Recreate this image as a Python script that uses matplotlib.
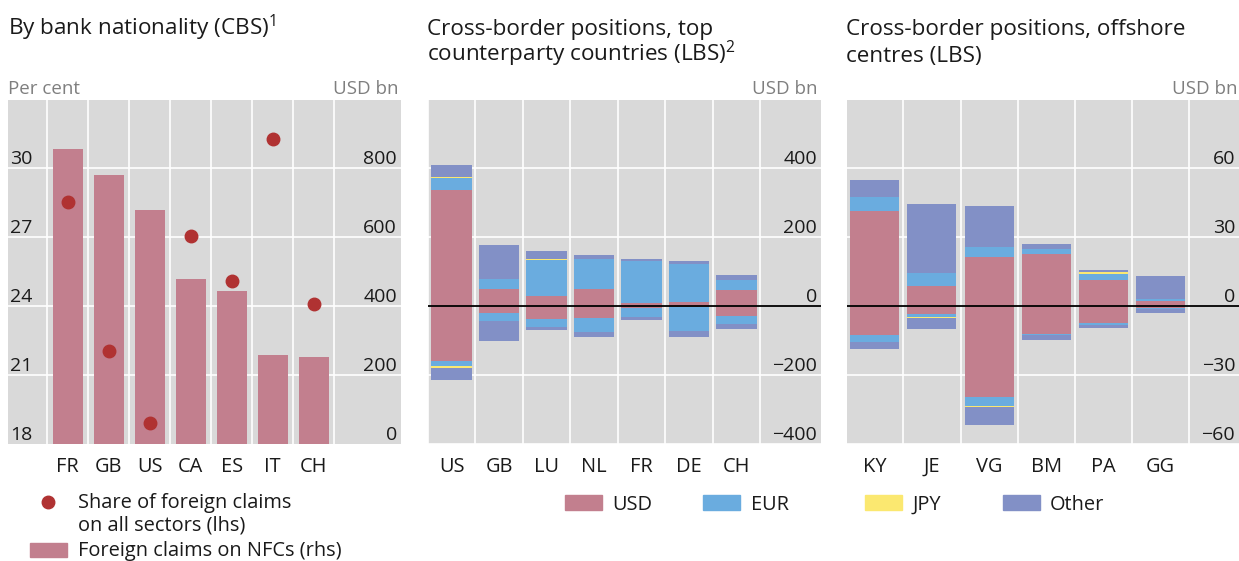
import numpy as np
import matplotlib
matplotlib.use('Agg')
import matplotlib.pyplot as plt
from matplotlib.patches import Rectangle
from matplotlib.lines import Line2D
from matplotlib.transforms import blended_transform_factory

plt.rcParams['font.family'] = ['Open Sans', 'DejaVu Sans']

# left panel: by bank nationality (CBS)
cbs_countries = ['FR', 'GB', 'US', 'CA', 'ES', 'IT', 'CH']
nfc_claims = [856, 781, 680, 480, 443, 258, 252]           # USD bn, rhs
share_all = [28.55, 22.05, 18.9, 27.05, 25.1, 31.3, 24.1]  # per cent, lhs

# middle panel: top counterparty countries (LBS)
top_countries = ['US', 'GB', 'LU', 'NL', 'FR', 'DE', 'CH']
top_usd_pos = [338, 50, 29, 50, 9, 12, 46]
top_eur_pos = [34, 29, 104, 86, 121, 110, 29]
top_jpy_pos = [4, 0, 4, 0, 0, 0, 0]
top_oth_pos = [34, 100, 22, 14, 6, 9, 17]
top_usd_neg = [-159, -19, -37, -35, -5, -2, -29]
top_eur_neg = [-16, -23, -23, -40, -27, -70, -22]
top_jpy_neg = [-4, -2, 0, 0, 0, 0, -2]
top_oth_neg = [-34, -57, -9, -14, -9, -18, -13]

# right panel: offshore centres (LBS)
off_centres = ['KY', 'JE', 'VG', 'BM', 'PA', 'GG']
off_usd_pos = [41.3, 8.6, 21.6, 22.9, 11.2, 2.2]
off_eur_pos = [6.4, 6.0, 4.3, 2.1, 3.0, 0.8]
off_jpy_pos = [0, 0, 0, 0, 0.9, 0]
off_oth_pos = [7.4, 30.0, 17.9, 2.2, 0.8, 10.3]
off_usd_neg = [-12.6, -3.6, -39.4, -12.3, -7.1, -1.0]
off_eur_neg = [-2.8, -1.2, -4.0, -0.4, -1.3, -0.4]
off_jpy_neg = [-0.4, -0.3, -0.4, 0, 0, 0]
off_oth_neg = [-3.0, -5.0, -8.1, -2.2, -0.9, -1.4]

ccy_labels = ['USD', 'EUR', 'JPY', 'Other']
ccy_colors = ['#c27f8e', '#6aacdf', '#fbe870', '#8290c6']
dot_color = '#b03232'
bg = '#d9d9d9'
grey_txt = '#7f7f7f'

W, H = 1239, 561
fig = plt.figure(figsize=(W / 100, H / 100), dpi=100)


def fx(px):
    return px / W


def fy(py):
    return 1 - py / H


def make_ax(x0, x1, y0=99.5, y1=444):
    ax = fig.add_axes([fx(x0), fy(y1), fx(x1 - x0), (y1 - y0) / H])
    ax.set_facecolor(bg)
    for s in ax.spines.values():
        s.set_visible(False)
    ax.tick_params(axis='both', length=0)
    ax.set_yticks([])
    return ax


def vgrid(ax, n):
    for k in range(n + 1):
        ax.axvline(k - 0.5, color='white', lw=1.2, zorder=1)


def hgrid(ax, vals):
    for v in vals:
        ax.axhline(v, color='white', lw=1.2, zorder=1)


def right_labels(ax, vals, fmt):
    tr = blended_transform_factory(ax.transAxes, ax.transData)
    for v in vals:
        ax.text(0.99, v, fmt(v), transform=tr, ha='right', va='bottom',
                fontsize=14, color='#1a1a1a', zorder=5)


def stack(ax, x, series, width):
    bottom = np.zeros(len(x))
    for vals, col in zip(series, ccy_colors):
        vals = np.asarray(vals, dtype=float)
        ax.bar(x, vals, width, bottom=bottom, color=col, zorder=2)
        bottom = bottom + vals


def minus(v):
    return ('%d' % v).replace('-', '\u2212')


def cat_labels(ax, x, labels):
    ax.set_xticks(x)
    ax.set_xticklabels(labels, fontsize=14.4, color='#1a1a1a')
    ax.tick_params(axis='x', pad=9)


# ---- panel 1
ax1 = make_ax(8, 401)
x1 = np.arange(len(cbs_countries))
ax1.set_xlim(-1.46, 8.13)
ax1.set_ylim(0, 1000)
vgrid(ax1, 7)
hgrid(ax1, [200, 400, 600, 800])
ax1.bar(x1, nfc_claims, 0.73, color=ccy_colors[0], zorder=2)
cat_labels(ax1, x1, cbs_countries)
right_labels(ax1, [0, 200, 400, 600, 800], lambda v: '%d' % v)

ax1b = ax1.twinx()
ax1b.set_ylim(18, 33)
for s in ax1b.spines.values():
    s.set_visible(False)
ax1b.set_yticks([])
ax1b.plot(x1, share_all, 'o', color=dot_color, ms=9, zorder=4)
tr = blended_transform_factory(ax1b.transAxes, ax1b.transData)
for v in [18, 21, 24, 27, 30]:
    ax1b.text(0.006, v, str(v), transform=tr, ha='left', va='bottom',
              fontsize=14, color='#1a1a1a')

# ---- panel 2
ax2 = make_ax(428.3, 821)
x2 = np.arange(len(top_countries))
ax2.set_xlim(-0.49, 7.78)
ax2.set_ylim(-400, 600)
vgrid(ax2, 7)
hgrid(ax2, [-400, -200, 200, 400])
stack(ax2, x2, [top_usd_pos, top_eur_pos, top_jpy_pos, top_oth_pos], 0.86)
stack(ax2, x2, [top_usd_neg, top_eur_neg, top_jpy_neg, top_oth_neg], 0.86)
ax2.axhline(0, color='black', lw=1.3, zorder=3)
cat_labels(ax2, x2, top_countries)
right_labels(ax2, [-400, -200, 0, 200, 400], minus)

# ---- panel 3
ax3 = make_ax(846.7, 1239)
x3 = np.arange(len(off_centres))
ax3.set_xlim(-0.49, 6.37)
ax3.set_ylim(-60, 90)
vgrid(ax3, 6)
hgrid(ax3, [-60, -30, 30, 60])
stack(ax3, x3, [off_usd_pos, off_eur_pos, off_jpy_pos, off_oth_pos], 0.86)
stack(ax3, x3, [off_usd_neg, off_eur_neg, off_jpy_neg, off_oth_neg], 0.86)
ax3.axhline(0, color='black', lw=1.3, zorder=3)
cat_labels(ax3, x3, off_centres)
right_labels(ax3, [-60, -30, 0, 30, 60], minus)

# ---- titles and unit labels
def ftext(x, y, s, **kw):
    kw.setdefault('fontsize', 16.2)
    kw.setdefault('color', '#1a1a1a')
    fig.text(fx(x), fy(y), s, va='baseline', **kw)


ftext(8, 35, r'By bank nationality (CBS)$^{\mathregular{1}}$')
ftext(427, 35, 'Cross-border positions, top')
ftext(427, 61.7, r'counterparty countries (LBS)$^{\mathregular{2}}$')
ftext(846, 35, 'Cross-border positions, offshore')
ftext(846, 61.7, 'centres (LBS)')

ftext(8, 94, 'Per cent', fontsize=13.5, color=grey_txt)
ftext(399, 94, 'USD bn', fontsize=13.5, color=grey_txt, ha='right')
ftext(817, 94, 'USD bn', fontsize=13.5, color=grey_txt, ha='right')
ftext(1237, 94, 'USD bn', fontsize=13.5, color=grey_txt, ha='right')

# ---- legends
fig.add_artist(Line2D([fx(48.3)], [fy(501.7)], marker='o', ms=9,
                      color=dot_color, linestyle='none'))
ftext(77.7, 508.3, 'Share of foreign claims', fontsize=14.4)
ftext(77.7, 530.5, 'on all sectors (lhs)', fontsize=14.4)
fig.add_artist(Rectangle((fx(30), fy(557.3)), fx(36.7), 14 / H,
                         color=ccy_colors[0]))
ftext(77.7, 556, 'Foreign claims on NFCs (rhs)', fontsize=14.4)

leg_pos = [(565, 612.7), (703, 751), (865, 912.7), (1003, 1050)]
for (px, tx), lab, col in zip(leg_pos, ccy_labels, ccy_colors):
    fig.add_artist(Rectangle((fx(px), fy(510)), fx(37), 15 / H, color=col))
    ftext(tx, 510, lab, fontsize=14.4)

fig.savefig('out.png', dpi=100)
